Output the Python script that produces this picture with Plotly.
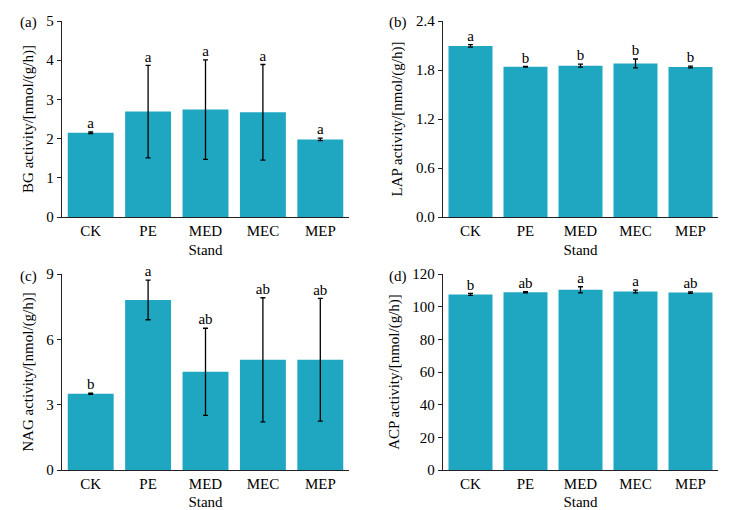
import plotly.graph_objects as go
from plotly.subplots import make_subplots

stands = ['CK', 'PE', 'MED', 'MEC', 'MEP']

bg_mean = [2.15, 2.69, 2.74, 2.67, 1.98]
bg_err = [0.02, 1.18, 1.27, 1.22, 0.03]
bg_sig = ['a', 'a', 'a', 'a', 'a']

lap_mean = [2.095, 1.840, 1.853, 1.880, 1.837]
lap_err = [0.015, 0.005, 0.018, 0.055, 0.01]
lap_sig = ['a', 'b', 'b', 'b', 'b']

nag_mean = [3.50, 7.81, 4.51, 5.06, 5.06]
nag_err = [0.03, 0.91, 2.00, 2.85, 2.82]
nag_sig = ['b', 'a', 'ab', 'ab', 'ab']

acp_mean = [107.5, 108.8, 110.3, 109.3, 108.6]
acp_err = [0.6, 0.4, 1.9, 0.8, 0.5]
acp_sig = ['b', 'ab', 'a', 'a', 'ab']

panels = [
    ('(a)', 'BG activity/[nmol/(g/h)]', bg_mean, bg_err, bg_sig, [0, 5], 1),
    ('(b)', 'LAP activity/[nmol/(g/h)]', lap_mean, lap_err, lap_sig, [0, 2.4], 0.6),
    ('(c)', 'NAG activity/[nmol/(g/h)]', nag_mean, nag_err, nag_sig, [0, 9], 3),
    ('(d)', 'ACP activity/[nmol/(g/h)]', acp_mean, acp_err, acp_sig, [0, 120], 20),
]

bar_color = '#1fa7c1'
font = 'Liberation Serif'

# page body has an 8px margin, so the figure is drawn 8px in from the corner
OFF = 8
W, H = 740 - OFF, 510 - OFF


def px(x):
    return (x - OFF) / W


def py(y):
    return 1 - (y - OFF) / H


fig = make_subplots(rows=2, cols=2)

# domains (screen pixels)
x_dom = [[px(62), px(349)], [px(443), px(718)]]
y_dom = [[py(217), py(21)], [py(470), py(274)]]
lab_x = [px(28), px(398)]
lab_y = [py(23), py(276)]

for i, (lab, ytitle, mean, err, sig, yr, dt) in enumerate(panels):
    r, c = i // 2 + 1, i % 2 + 1
    fig.add_trace(go.Bar(x=stands, y=mean, marker_color=bar_color, marker_line_width=0,
                         error_y=dict(type='data', array=err, color='black', thickness=1.3, width=2.5),
                         showlegend=False), row=r, col=c)
    tops = [m + e for m, e in zip(mean, err)]
    fig.add_trace(go.Scatter(x=stands, y=tops, mode='text', text=sig, textposition='top center',
                             textfont=dict(family=font, size=15, color='black'),
                             showlegend=False, cliponaxis=False), row=r, col=c)
    xa = 'xaxis' if i == 0 else 'xaxis%d' % (i + 1)
    ya = 'yaxis' if i == 0 else 'yaxis%d' % (i + 1)
    fig.update_layout({
        xa: dict(domain=x_dom[c - 1], range=[-0.5, 4.5], showline=True, linecolor='#222', linewidth=1.3,
                 ticks='', automargin=False,
                 title=dict(text='Stand', standoff=6, font=dict(family=font, size=15)),
                 tickfont=dict(family=font, size=15, color='black')),
        ya: dict(domain=y_dom[r - 1], range=yr, dtick=dt, showline=True, linecolor='#222', linewidth=1.3,
                 ticks='outside', ticklen=4, tickcolor='#222', showgrid=False, zeroline=False,
                 automargin=False, tickformat='.1f' if i == 1 else None,
                 title=dict(text=ytitle, standoff=9, font=dict(family=font, size=15)),
                 tickfont=dict(family=font, size=15, color='black')),
    })
    fig.add_annotation(text=lab, x=lab_x[c - 1], y=lab_y[r - 1], xref='paper', yref='paper',
                       showarrow=False, font=dict(family=font, size=15, color='black'),
                       xanchor='center', yanchor='middle')

fig.update_layout(width=W, height=H, margin=dict(l=0, r=0, t=0, b=0, autoexpand=False),
                  plot_bgcolor='white', paper_bgcolor='white', bargap=0.2,
                  font=dict(family=font, color='black'))

fig.write_html('out.html')
